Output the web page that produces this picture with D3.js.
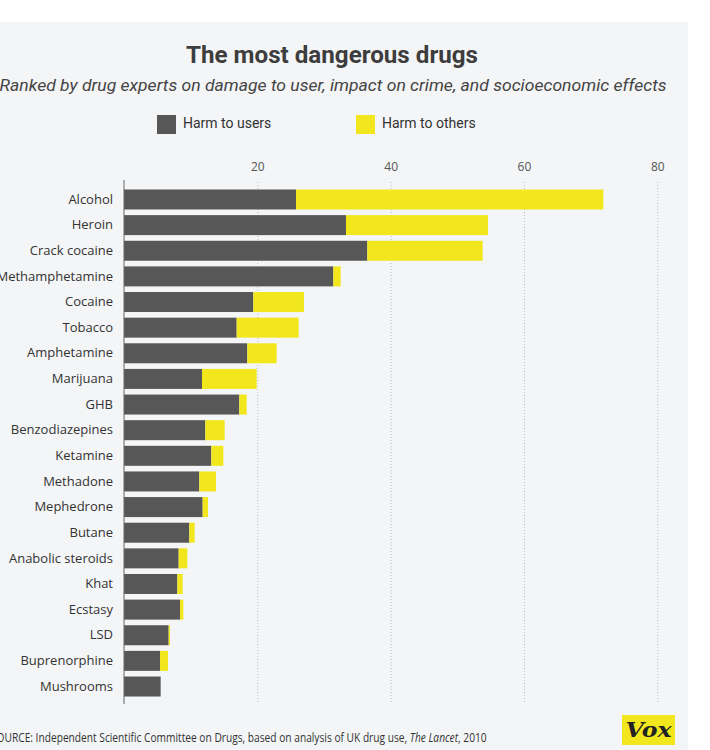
<!DOCTYPE html>
<html>
<head>
<meta charset="utf-8">
<script src="https://cdn.jsdelivr.net/npm/d3@7"></script>
<style>
    body { margin: 0; background: #fff; }
    svg { display: block; }
</style>
</head>
<body>
<svg id="chart" width="710" height="750"></svg>
<script>
// data
var drugs = ["Alcohol", "Heroin", "Crack cocaine", "Methamphetamine", "Cocaine", "Tobacco",
    "Amphetamine", "Marijuana", "GHB", "Benzodiazepines", "Ketamine", "Methadone",
    "Mephedrone", "Butane", "Anabolic steroids", "Khat", "Ecstasy", "LSD",
    "Buprenorphine", "Mushrooms"];
var harmToUsers = [25.8, 33.3, 36.5, 31.4, 19.4, 16.9, 18.5, 11.7, 17.3, 12.2, 13.1, 11.3,
    11.8, 9.8, 8.2, 8.0, 8.4, 6.7, 5.4, 5.5];
var harmToOthers = [46.1, 21.3, 17.3, 1.1, 7.6, 9.3, 4.4, 8.2, 1.1, 2.9, 1.8, 2.5,
    0.8, 0.8, 1.3, 0.8, 0.5, 0.2, 1.2, 0];
var seriesNames = ["Harm to users", "Harm to others"];
var tickValues = [20, 40, 60, 80];

var colors = ["#575757", "#f1e71c"];

var svg = d3.select("#chart");

// grey panel
svg.append("rect")
    .attr("x", 0).attr("y", 22)
    .attr("width", 688).attr("height", 728)
    .attr("fill", "#f4f5f7");

// Title + subtitle
svg.append("text")
    .attr("x", 332).attr("y", 63)
    .attr("text-anchor", "middle")
    .attr("font-family", "Roboto, sans-serif")
    .attr("font-weight", "bold")
    .attr("font-size", 24)
    .attr("fill", "#3d3d3d")
    .attr("textLength", 292)
    .attr("lengthAdjust", "spacingAndGlyphs")
    .text("The most dangerous drugs");

svg.append("text")
    .attr("x", 333).attr("y", 91)
    .attr("text-anchor", "middle")
    .attr("font-family", "Roboto, sans-serif")
    .attr("font-style", "italic")
    .attr("font-size", 17)
    .attr("fill", "#444")
    .attr("textLength", 667)
    .attr("lengthAdjust", "spacingAndGlyphs")
    .text("Ranked by drug experts on damage to user, impact on crime, and socioeconomic effects");

// legend
var legend = svg.append("g").classed("legend", true);
var legendX = [157, 356];
legend.selectAll("rect")
    .data(seriesNames)
    .enter()
    .append("rect")
    .attr("x", function (d, i) { return legendX[i]; })
    .attr("y", 115)
    .attr("width", 19).attr("height", 19)
    .attr("fill", function (d, i) { return colors[i]; });
legend.selectAll("text")
    .data(seriesNames)
    .enter()
    .append("text")
    .attr("x", function (d, i) { return legendX[i] + 26; })
    .attr("y", 128)
    .attr("font-family", "Roboto, sans-serif")
    .attr("font-size", 14)
    .attr("fill", "#333")
    .text(function (d) { return d; });

// scales
var x = d3.scaleLinear().domain([0, 80]).range([124, 657.3]);
var y = d3.scaleBand().domain(drugs).range([189.5, 696.5]).paddingInner(0.22).paddingOuter(0);

// grid + tick labels
var axis = svg.append("g")
    .attr("transform", "translate(0,182)")
    .call(d3.axisTop(x).tickValues(tickValues).tickSize(-521).tickPadding(11));
axis.select(".domain").remove();
axis.selectAll(".tick line")
    .attr("stroke", "#b9bcc0")
    .attr("stroke-dasharray", "1 2");
axis.selectAll(".tick text")
    .attr("font-family", "'Open Sans', sans-serif")
    .attr("font-size", 12)
    .attr("fill", "#555");

// stacked bars
var rows = drugs.map(function (d, i) {
    return { drug: d, users: harmToUsers[i], others: harmToOthers[i] };
});
var stack = d3.stack().keys(["users", "others"])(rows);

svg.append("g").classed("bars", true)
    .selectAll("g")
    .data(stack)
    .enter()
    .append("g")
    .attr("fill", function (d, i) { return colors[i]; })
    .selectAll("rect")
    .data(function (d) { return d; })
    .enter()
    .append("rect")
    .attr("x", function (d) { return x(d[0]); })
    .attr("y", function (d) { return y(d.data.drug); })
    .attr("width", function (d) { return x(d[1]) - x(d[0]); })
    .attr("height", y.bandwidth());

// zero line
svg.append("line")
    .attr("x1", x(0)).attr("x2", x(0))
    .attr("y1", 180).attr("y2", 704)
    .attr("stroke", "#666").attr("stroke-width", 1);

// category labels
var yAxis = svg.append("g")
    .attr("transform", "translate(" + (x(0) - 11) + ",0)")
    .call(d3.axisLeft(y).tickSize(0).tickPadding(0));
yAxis.select(".domain").remove();
yAxis.selectAll(".tick text")
    .attr("font-family", "'Open Sans', sans-serif")
    .attr("font-size", 13)
    .attr("fill", "#333");

// source line - squeezed horizontally to the width in the picture
var srcGroup = svg.append("g");
var src = srcGroup.append("text")
    .attr("x", 0).attr("y", 0)
    .attr("font-family", "'Open Sans', sans-serif")
    .attr("font-size", 12)
    .attr("fill", "#333");
src.append("tspan").text("SOURCE: Independent Scientific Committee on Drugs, based on analysis of UK drug use, ");
src.append("tspan").attr("font-style", "italic").text("The Lancet");
src.append("tspan").text(", 2010");
var srcWidth = src.node().getComputedTextLength();
srcGroup.attr("transform", "translate(-9,742) scale(" + (496 / srcWidth) + ",1)");

// Vox logo
svg.append("rect")
    .attr("x", 622).attr("y", 715)
    .attr("width", 53).attr("height", 30)
    .attr("fill", "#f1e71c");
svg.append("text")
    .attr("x", 648.5).attr("y", 737)
    .attr("text-anchor", "middle")
    .attr("font-family", "'DejaVu Serif', serif")
    .attr("font-weight", "bold")
    .attr("font-style", "italic")
    .attr("font-size", 20)
    .attr("fill", "#222")
    .attr("textLength", 46)
    .attr("lengthAdjust", "spacingAndGlyphs")
    .text("Vox");
</script>
</body>
</html>
